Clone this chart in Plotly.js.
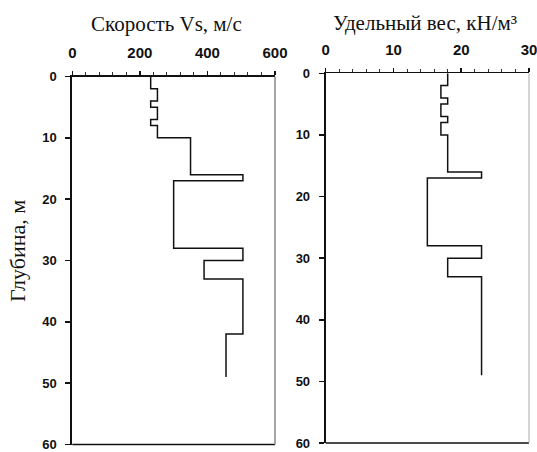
<!DOCTYPE html>
<html>
<head>
<meta charset="utf-8">
<script src="https://cdn.plot.ly/plotly-3.0.1.min.js"></script>
<style>
html,body{margin:0;padding:0;background:#fff;}
#chart{width:537px;height:452px;}
</style>
</head>
<body>
<div id="chart"></div>
<script>
// Shear-wave velocity profile: layer top depths (m) and Vs (m/s)
var vsTop = [0, 2, 4, 5, 7, 8, 10, 16, 17, 28, 30, 33, 42];
var vsVal = [232, 252, 232, 252, 232, 252, 350, 505, 300, 505, 390, 505, 455];
var vsBottom = 49;

// Unit weight profile: layer top depths (m) and gamma (kN/m3)
var gTop = [0, 2, 4, 5, 7, 8, 10, 16, 17, 28, 30, 33];
var gVal = [18, 17, 18, 17, 18, 17, 18, 23, 15, 23, 18, 23];
var gBottom = 49;

var xTicksVs = [0, 200, 400, 600];
var xTicksG = [0, 10, 20, 30];
var yTicks = [0, 10, 20, 30, 40, 50, 60];

var titleVs = 'Скорость Vs, м/с';
var titleG = 'Удельный вес, кН/м³';
var titleY = 'Глубина, м';

function profile(tops, vals, bottom) {
  return {
    x: vals.concat([vals[vals.length - 1]]),
    y: tops.concat([bottom])
  };
}

var p1 = profile(vsTop, vsVal, vsBottom);
var p2 = profile(gTop, gVal, gBottom);

var W = 537, H = 452;
var xTickFont = {family: 'Liberation Sans, Arial, sans-serif', size: 15, color: '#111', weight: 'bold'};
var yTickFont = {family: 'Liberation Sans, Arial, sans-serif', size: 13, color: '#111', weight: 'bold'};
var serif = 'Liberation Serif, Times New Roman, serif';

var traces = [
  {x: p1.x, y: p1.y, xaxis: 'x', yaxis: 'y', mode: 'lines',
   line: {shape: 'vh', color: '#111', width: 1.5}, hoverinfo: 'skip'},
  {x: p2.x, y: p2.y, xaxis: 'x2', yaxis: 'y2', mode: 'lines',
   line: {shape: 'vh', color: '#111', width: 1.5}, hoverinfo: 'skip'}
];

function xa(domain, range, ticks, minorD, anchor) {
  return {
    domain: domain, range: range, anchor: anchor, side: 'top',
    tickvals: ticks, ticktext: ticks.map(String),
    ticks: 'outside', ticklen: 4, tickwidth: 1.5, tickcolor: '#111',
    minor: {dtick: minorD, ticks: 'outside', ticklen: 3, tickwidth: 1, tickcolor: '#333', showgrid: false},
    ticklabelstandoff: 7, ticklabeloverflow: 'allow',
    showline: true, linecolor: '#111', linewidth: 1.5,
    showgrid: false, zeroline: false, tickfont: xTickFont, fixedrange: true
  };
}
function ya(domain, anchor) {
  return {
    domain: domain, range: [60, 0], anchor: anchor,
    tickvals: yTicks, ticktext: yTicks.map(String),
    ticks: 'outside', ticklen: 5, tickwidth: 1.5, tickcolor: '#111',
    ticklabelstandoff: 6, ticklabeloverflow: 'allow',
    showline: true, linecolor: '#111', linewidth: 2,
    showgrid: false, zeroline: false, tickfont: yTickFont, fixedrange: true
  };
}

var layout = {
  width: W, height: H,
  margin: {l: 0, r: 0, t: 0, b: 0},
  paper_bgcolor: '#fff', plot_bgcolor: '#fff',
  showlegend: false,
  xaxis: xa([72.3 / W, 275 / W], [0, 600], xTicksVs, 40, 'y'),
  yaxis: ya([1 - 444.5 / H, 1 - 76.5 / H], 'x'),
  xaxis2: xa([325.7 / W, 529 / W], [0, 30], xTicksG, 2, 'y2'),
  yaxis2: ya([1 - 443 / H, 1 - 73.3 / H], 'x2'),
  shapes: [
    {type: 'line', xref: 'x domain', yref: 'y domain', x0: 0, x1: 1, y0: 0, y1: 0, line: {color: '#111', width: 1.5}},
    {type: 'line', xref: 'x domain', yref: 'y domain', x0: 1, x1: 1, y0: 0, y1: 1, line: {color: '#888', width: 1.5}},
    {type: 'line', xref: 'x2 domain', yref: 'y2 domain', x0: 0, x1: 1, y0: 0, y1: 0, line: {color: '#111', width: 1.5}},
    {type: 'line', xref: 'x2 domain', yref: 'y2 domain', x0: 1, x1: 1, y0: 0, y1: 1, line: {color: '#aaa', width: 1}}
  ],
  annotations: [
    {text: titleVs, xref: 'paper', yref: 'paper', x: 166 / W, y: 1 - 24 / H, showarrow: false,
     xanchor: 'center', yanchor: 'middle', font: {family: serif, size: 21, color: '#111'}},
    {text: titleG, xref: 'paper', yref: 'paper', x: 425 / W, y: 1 - 23 / H, showarrow: false,
     xanchor: 'center', yanchor: 'middle', font: {family: serif, size: 21, color: '#111'}},
    {text: titleY, xref: 'paper', yref: 'paper', x: 17 / W, y: 1 - 251 / H, showarrow: false,
     textangle: -90, xanchor: 'center', yanchor: 'middle', font: {family: serif, size: 22, color: '#111'}}
  ]
};

Plotly.newPlot('chart', traces, layout, {staticPlot: true, displayModeBar: false});
</script>
</body>
</html>
